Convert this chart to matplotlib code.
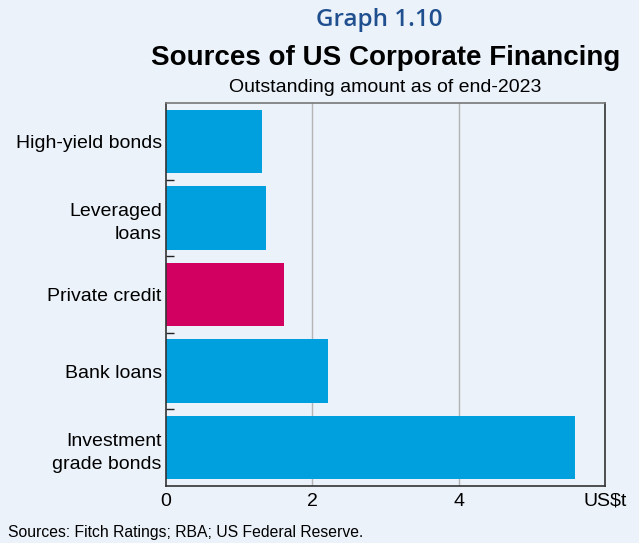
import numpy as np
import matplotlib
matplotlib.use('Agg')
import matplotlib.pyplot as plt
from matplotlib.ticker import FixedLocator

categories = ['High-yield bonds', 'Leveraged\nloans', 'Private credit',
              'Bank loans', 'Investment\ngrade bonds']
values = [1.31, 1.36, 1.61, 2.21, 5.59]
highlight = 'Private credit'
xticks = [0, 2, 4, 6]
xticklabels = ['0', '2', '4', 'US$t']

BG = '#ebf2fa'
BLUE = '#00a0df'
RED = '#d20060'

plt.rcParams['font.family'] = ['Liberation Sans', 'DejaVu Sans']

fig = plt.figure(figsize=(6.39, 5.43), dpi=100, facecolor=BG)
ax = fig.add_axes([0.2598, 0.105, 0.687, 0.7053], facecolor=BG)

pos = np.arange(len(categories))
colors = [RED if c == highlight else BLUE for c in categories]
ax.barh(pos, values, height=0.83, color=colors, zorder=2)

ax.set_ylim(len(categories) - 0.5, -0.5)
ax.set_xlim(0, 6)
ax.set_yticks(pos)
ax.set_yticklabels(categories, fontsize=14, ha='right', multialignment='right',
                   linespacing=1.5)
ax.tick_params(axis='y', length=0, pad=3)
ax.yaxis.set_minor_locator(FixedLocator(pos[:-1] + 0.5))
ax.tick_params(axis='y', which='minor', direction='in', length=6, width=1, color='#222222')

ax.set_xticks(xticks)
ax.set_xticklabels(xticklabels, fontsize=14)
ax.tick_params(axis='x', length=0, pad=5)
for x in xticks[1:-1]:
    ax.axvline(x, color='#b4b4b4', lw=1, zorder=1)

for s in ax.spines.values():
    s.set_color('#333333')
    s.set_linewidth(1.2)
ax.spines['top'].set_color('#777777')

cx = (0.2598 + 0.9468) / 2
fig.text(379.5 / 639, 1 - 20 / 543, 'Graph 1.10', ha='center', va='center', fontsize=17.5,
         color='#1f4f8f', family='Open Sans', fontweight='semibold')
fig.text(cx, 1 - 58 / 543, 'Sources of US Corporate Financing', ha='center', va='center',
         fontsize=20, fontweight='bold', color='black')
fig.text(cx, 1 - 87 / 543, 'Outstanding amount as of end-2023', ha='center', va='center',
         fontsize=14, color='black')
fig.text(8 / 639, 1 - 533 / 543, 'Sources: Fitch Ratings; RBA; US Federal Reserve.',
         ha='left', va='center', fontsize=11.3, color='black')

fig.savefig('out.png', dpi=100, facecolor=BG)
